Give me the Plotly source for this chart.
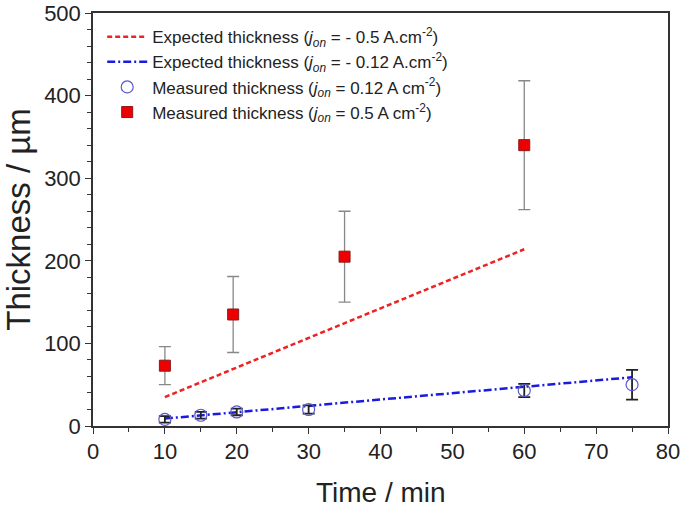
import plotly.graph_objects as go

# Expected thickness lines
exp_hi_x = [10, 60]
exp_hi_y = [35, 214]
exp_lo_x = [10, 75]
exp_lo_y = [9, 59]

# Measured thickness, j_on = 0.12 A cm-2
meas_lo_x = [10, 15, 20, 30, 60, 75]
meas_lo_y = [8, 13, 17, 20, 43, 50]
meas_lo_err = [4, 4, 4, 5, 8, 18]

# Measured thickness, j_on = 0.5 A cm-2
meas_hi_x = [10, 19.5, 35, 60]
meas_hi_y = [73, 135, 205, 340]
meas_hi_err = [23, 46, 55, 78]

font = "Liberation Sans, Arial, sans-serif"

fig = go.Figure()
fig.add_trace(go.Scatter(
    x=exp_hi_x, y=exp_hi_y, mode="lines",
    line=dict(color="#ee2222", width=2.5, dash="5px,3px"),
    name="Expected thickness (<i>j<sub>on</sub></i> = - 0.5 A.cm<sup>-2</sup>)"))
fig.add_trace(go.Scatter(
    x=exp_lo_x, y=exp_lo_y, mode="lines",
    line=dict(color="#1a1ae0", width=2.5, dash="8px,3px,2px,3px"),
    name="Expected thickness (<i>j<sub>on</sub></i> = - 0.12 A.cm<sup>-2</sup>)"))
fig.add_trace(go.Scatter(
    x=meas_lo_x, y=meas_lo_y, mode="markers",
    marker=dict(symbol="circle-open", size=12, color="#5a5acc", line=dict(width=1.2)),
    error_y=dict(type="data", array=meas_lo_err, color="#222222", thickness=1.8, width=6),
    name="Measured thickness (<i>j<sub>on</sub></i> = 0.12 A cm<sup>-2</sup>)"))
fig.add_trace(go.Scatter(
    x=meas_hi_x, y=meas_hi_y, mode="markers",
    marker=dict(symbol="square", size=11, color="#ee0000", line=dict(color="#8a1a1a", width=1)),
    error_y=dict(type="data", array=meas_hi_err, color="#888888", thickness=1.3, width=6),
    name="Measured thickness (<i>j<sub>on</sub></i> = 0.5 A cm<sup>-2</sup>)"))

axis_common = dict(
    showline=True, linecolor="#333333", linewidth=1.5, mirror=True,
    ticks="outside", tickcolor="#333333", ticklen=6, tickwidth=1.2,
    showgrid=False, zeroline=False, automargin=False,
    ticklabeloverflow="allow",
    tickfont=dict(family=font, size=22, color="#222222"),
)

fig.update_layout(
    width=685, height=508,
    paper_bgcolor="white", plot_bgcolor="white",
    margin=dict(l=93, r=17, t=13, b=82),
    font=dict(family=font, color="#222222"),
    showlegend=True,
    legend=dict(x=0.016, y=0.985, xanchor="left", yanchor="top",
                bgcolor="rgba(0,0,0,0)", font=dict(family=font, size=17, color="#222222"),
                tracegroupgap=0, itemwidth=40),
    xaxis=dict(range=[0, 80], tickvals=[0, 10, 20, 30, 40, 50, 60, 70, 80],
               minor=dict(dtick=5, tick0=0, ticks="outside", ticklen=4, tickcolor="#333333"),
               ticklabelstandoff=-1,
               **axis_common),
    yaxis=dict(range=[0, 500], tickvals=[0, 100, 200, 300, 400, 500],
               minor=dict(dtick=20, tick0=0, ticks="outside", ticklen=4, tickcolor="#333333"),
               title=dict(text="Thickness / µm", font=dict(family=font, size=33), standoff=12),
               **axis_common),
    annotations=[dict(text="Time / min", xref="paper", yref="paper", x=0.5, y=0,
                      xanchor="center", yanchor="middle", yshift=-66, showarrow=False,
                      font=dict(family=font, size=28, color="#222222"))],
)

fig.write_html("out.html", config={"displayModeBar": False},
               post_script="document.body.style.margin='0';")
